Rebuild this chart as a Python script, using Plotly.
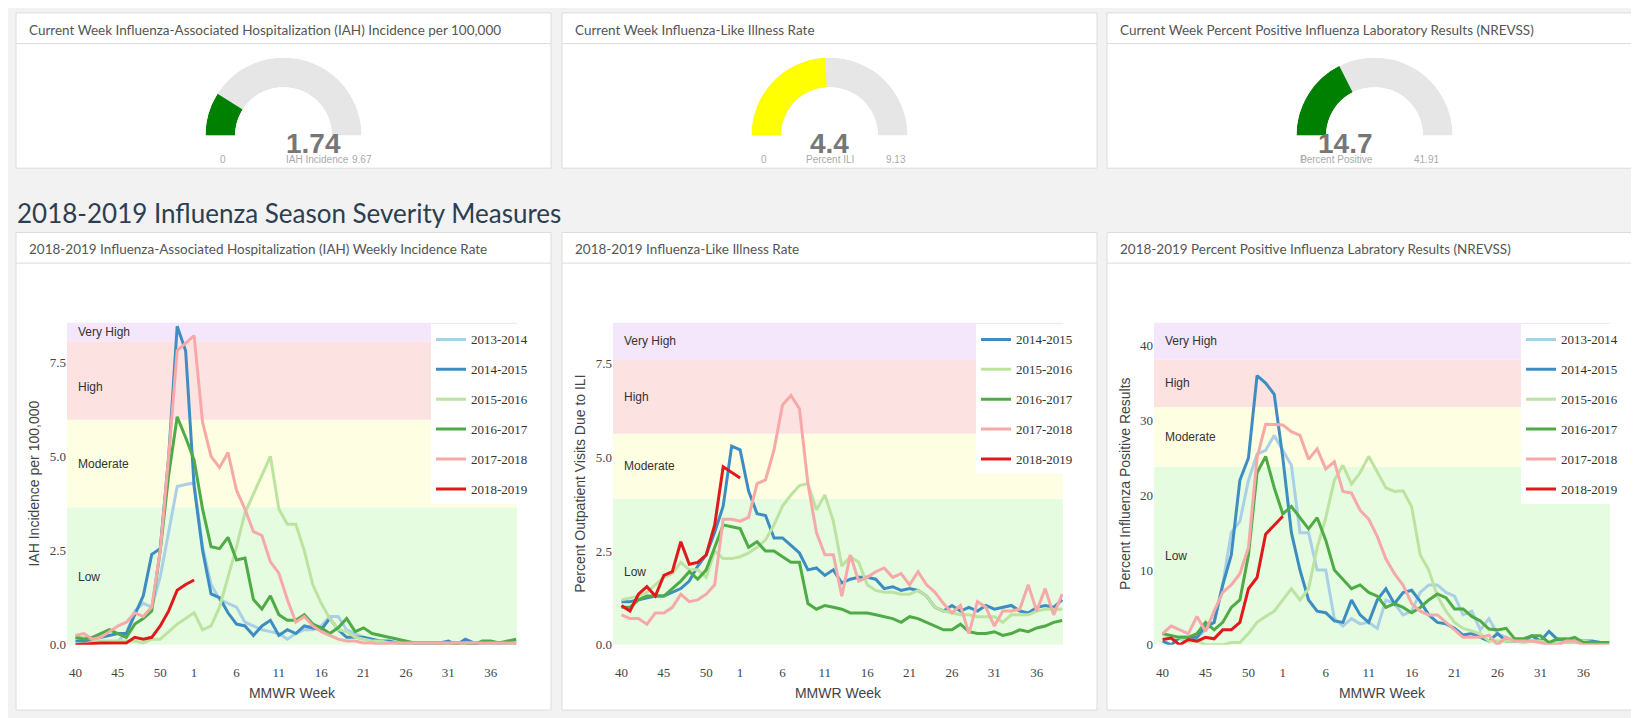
import plotly.graph_objects as go

W, H = 1639, 718
weeks = list(range(40, 54)) + list(range(1, 40))
tick_weeks = [40, 45, 50, 1, 6, 11, 16, 21, 26, 31, 36]

seasons = ["2013-2014", "2014-2015", "2015-2016", "2016-2017", "2017-2018", "2018-2019"]
colors = {"2013-2014": "#a9d0e6", "2014-2015": "#3d8dc2", "2015-2016": "#bde3a0",
          "2016-2017": "#4fab45", "2017-2018": "#f6a9a8", "2018-2019": "#e0191c"}

iah = {
 "2013-2014": [0.2,0.15,0.1,0.05,0.05,0.1,0.3,0.9,1.1,1.0,1.8,3.0,4.2,4.25,4.3,2.6,1.6,1.2,1.1,1.0,0.6,0.5,0.4,0.35,0.3,0.15,0.3,0.4,0.4,0.5,0.75,0.75,0.4,0.3,0.2,0.1,0.1,0.05,0.05,0.05,0.05,0.05,0.05,0.05,0.05,0.05,0.05,0.05,0.05,0.05,0.05,0.05,0.05],
 "2014-2015": [0.1,0.1,0.15,0.2,0.25,0.3,0.3,0.8,1.3,2.4,2.55,5.0,8.45,7.8,4.2,2.5,1.35,1.25,0.85,0.55,0.5,0.25,0.5,0.65,0.25,0.4,0.3,0.5,0.45,0.4,0.7,0.4,0.2,0.2,0.2,0.15,0.1,0.1,0.05,0.05,0.05,0.05,0.05,0.05,0.1,0.0,0.15,0.05,0.05,0.05,0.05,0.05,0.05],
 "2015-2016": [0.2,0.2,0.15,0.1,0.1,0.1,0.1,0.1,0.05,0.15,0.15,0.35,0.55,0.7,0.85,0.4,0.5,1.0,1.8,2.6,3.5,4.0,4.5,5.0,3.6,3.2,3.2,2.5,1.6,1.1,0.7,0.4,0.35,0.2,0.15,0.1,0.1,0.05,0.05,0.05,0.05,0.05,0.05,0.05,0.05,0.05,0.05,0.05,0.05,0.05,0.05,0.05,0.05],
 "2016-2017": [0.2,0.15,0.2,0.3,0.4,0.3,0.2,0.55,0.7,0.9,2.5,4.5,6.05,5.5,4.9,3.6,2.6,2.55,2.85,2.25,2.3,1.2,0.95,1.3,0.8,0.65,0.65,0.8,0.55,0.45,0.3,0.45,0.7,0.35,0.45,0.3,0.25,0.2,0.15,0.1,0.05,0.05,0.05,0.05,0.05,0.05,0.05,0.0,0.1,0.1,0.05,0.1,0.15],
 "2017-2018": [0.25,0.3,0.15,0.2,0.35,0.5,0.6,0.85,0.75,1.0,2.5,5.0,7.8,8.0,8.2,5.9,5.0,4.7,5.1,4.1,3.6,3.0,2.9,2.2,1.9,1.2,0.6,0.75,0.5,0.35,0.25,0.15,0.1,0.1,0.05,0.05,0.0,0.05,0.05,0.05,0.05,0.05,0.05,0.05,0.05,0.05,0.05,0.05,0.05,0.05,0.05,0.05,0.05],
 "2018-2019": [0.0,0.02,0.03,0.05,0.05,0.05,0.05,0.2,0.15,0.2,0.5,0.9,1.45,1.6,1.72],
}
ili = {
 "2014-2015": [1.15,1.15,1.2,1.25,1.3,1.3,1.4,1.5,1.7,2.1,2.4,3.0,3.7,5.3,5.2,4.1,3.5,3.45,2.85,2.85,2.65,2.45,2.0,2.05,1.85,2.0,1.65,1.75,1.8,1.8,1.75,1.5,1.55,1.45,1.5,1.45,1.3,1.0,0.9,1.05,0.9,1.0,0.9,1.05,0.95,1.0,1.05,0.9,0.85,1.0,1.05,1.0,1.2],
 "2015-2016": [1.2,1.25,1.3,1.4,1.6,1.8,1.9,2.2,2.0,2.0,1.8,2.5,2.3,2.3,2.35,2.45,2.6,2.8,3.2,3.7,4.0,4.25,4.3,3.6,4.0,3.3,2.1,2.35,2.2,1.6,1.45,1.4,1.4,1.35,1.35,1.45,1.3,1.0,0.9,0.85,0.8,0.8,0.75,0.75,0.75,0.6,0.8,0.8,0.8,0.9,0.95,0.95,0.95],
 "2016-2017": [1.0,1.0,1.2,1.3,1.3,1.3,1.5,1.7,1.95,1.75,2.0,2.6,3.2,3.15,3.1,2.6,2.75,2.5,2.5,2.35,2.2,2.2,1.1,0.95,1.05,1.0,0.95,0.85,0.85,0.85,0.8,0.75,0.7,0.6,0.75,0.7,0.6,0.5,0.4,0.4,0.55,0.35,0.3,0.3,0.35,0.25,0.3,0.4,0.35,0.45,0.5,0.6,0.65],
 "2017-2018": [0.8,0.7,0.7,0.55,0.85,0.85,1.0,1.35,1.15,1.2,1.35,1.6,3.35,3.35,3.3,3.4,4.3,4.4,5.2,6.4,6.65,6.3,4.3,3.0,2.4,2.4,1.3,2.4,1.7,1.8,1.95,2.05,1.8,1.9,1.6,1.95,1.6,1.4,1.1,0.85,1.05,0.3,1.15,1.0,0.5,0.9,0.9,0.95,1.6,0.9,1.5,0.8,1.35],
 "2018-2019": [1.05,0.9,1.35,1.55,1.3,1.85,1.95,2.75,2.15,2.2,2.4,3.2,4.75,4.6,4.45],
}
pos = {
 "2013-2014": [1.5,1.0,0.8,0.5,1.0,2.0,3.0,8,15,16.5,22,25.5,26,28,26,24,15,15,10,10,3.5,2.5,3.5,2.8,3.0,2.2,6,5.5,4,4.5,7,8,8,7,6.5,4,4.5,2,3.5,1.5,1,0.5,0.5,0.5,0.5,0.3,0.3,0.5,0.3,0.3,0.3,0.3,0.3],
 "2014-2015": [0.5,0,1,1,1,2.5,3,8,12,22,25,36,35,33.5,25,15,10,6,4.5,4.3,3.2,3,6,4,3,6,7.5,5.5,7,7.3,5.8,4,3,2.8,2.2,1.3,1.5,1,0.5,1.5,0.5,0.5,0.5,1.2,0.5,1.8,0.7,0.8,0.5,0.5,0.5,0.3,0.3],
 "2015-2016": [1.5,1,1,0.5,0.5,0,0,0,0.3,0.3,1.5,3,3.8,4.5,6,7.5,6,7.5,13,17,22,24,21.5,23,25.2,23,21,20.5,20.6,18.5,12,10,6.5,4.5,3,2.2,1.8,1.5,0.5,0.5,0.5,0.5,0.3,0.5,0.5,0.3,0.3,0.3,0.3,0.5,0.3,0.3,0.3],
 "2016-2017": [1.5,1.2,1,1,1.5,3,2,3,5,6,12,23,25.2,21,17.5,18.5,17,15.5,17,14,10,8.8,7.5,8,7,6.5,5,5.5,5,4.3,5,6,6.8,6.3,4.8,4.8,3.8,3.2,2.1,2,2.2,0.8,0.8,1.2,1.2,0.3,0.8,0.7,1,0.3,0.3,0.3,0.3],
 "2017-2018": [1.5,2.5,2,1.5,3.8,1.8,4.5,7,8,9.5,13,25,29.5,29.5,29.4,28.5,28,24.8,26.2,23.5,24.5,20.5,20.3,18,16.8,14.5,11.5,9.5,8,5.5,4.5,4,4,3,2,1,1,1,1.3,0,1,0.5,0.5,0.5,0.3,0,0,0.5,0.5,0,0,0,0],
 "2018-2019": [0.7,0.9,0,0.7,0.5,1,0.8,2,2,3,7.5,9,14.8,16,17.2],
}

band_names = ["Low", "Moderate", "High", "Very High"]
band_colors = ["#e5fce0", "#fefee2", "#fde2e2", "#f4e7fb"]
iah_bands = [3.65, 5.97, 8.05, 8.55]
ili_bands = [3.9, 5.63, 7.6, 8.6]
pos_bands = [23.8, 31.8, 38.1, 43.1]
iah_label_y = [1.8, 4.8, 6.85, 8.3]
ili_label_y = [1.95, 4.76, 6.6, 8.1]
pos_label_y = [11.9, 27.8, 35.0, 40.6]

gauge_titles = ["Current Week Influenza-Associated Hospitalization (IAH) Incidence per 100,000",
                "Current Week Influenza-Like Illness Rate",
                "Current Week Percent Positive Influenza Laboratory Results (NREVSS)"]
gauge_values = [1.74, 4.4, 14.7]
gauge_max = [9.67, 9.13, 41.91]
gauge_labels = ["IAH Incidence", "Percent ILI", "Percent Positive"]
gauge_colors = ["#008000", "#ffff00", "#008000"]

chart_titles = ["2018-2019 Influenza-Associated Hospitalization (IAH) Weekly Incidence Rate",
                "2018-2019 Influenza-Like Illness Rate",
                "2018-2019 Percent Positive Influenza Labratory Results (NREVSS)"]
y_titles = ["IAH Incidence per 100,000", "Percent Outpatient Visits Due to ILI",
            "Percent Influenza Positive Results"]

def px(x): return x / W
def py(y): return 1 - y / H

fig = go.Figure()
shapes, annotations = [], []
panels_x = [(8, 543), (554, 1089), (1099, 1634)]
centers = [(a + b) / 2 for a, b in panels_x]

for (a, b) in panels_x:
    for (t, bt, hl) in [(5, 162, 36), (227, 710, 258)]:
        shapes.append(dict(type="rect", xref="paper", yref="paper", x0=px(a), x1=px(b), y0=py(bt), y1=py(t),
                           fillcolor="white", line=dict(color="#dcdcdc", width=1), layer="below"))
        shapes.append(dict(type="line", xref="paper", yref="paper", x0=px(a), x1=px(b), y0=py(hl), y1=py(hl),
                           line=dict(color="#dcdcdc", width=1), layer="below"))

for i in range(3):
    a, b = panels_x[i]
    annotations.append(dict(xref="paper", yref="paper", x=px(a + 11), y=py(22), xanchor="left", yanchor="middle",
                            text=gauge_titles[i], showarrow=False, font=dict(family="Lato", size=13.5, color="#555")))
    annotations.append(dict(xref="paper", yref="paper", x=px(a + 11), y=py(244), xanchor="left", yanchor="middle",
                            text=chart_titles[i], showarrow=False, font=dict(family="Lato", size=13.5, color="#555")))

annotations.append(dict(xref="paper", yref="paper", x=px(7), y=py(207), xanchor="left", yanchor="middle",
                        text="2018-2019 Influenza Season Severity Measures", showarrow=False,
                        font=dict(family="Lato", size=26, color="#2c3e50")))

for i in range(3):
    c = centers[i]
    pid = "polar" if i == 0 else f"polar{i+1}"
    frac = gauge_values[i] / gauge_max[i]
    fig.add_trace(go.Barpolar(r=[1], theta=[90], width=[180], base=[0], marker=dict(color="#e6e6e6", line=dict(width=0)),
                              subplot=pid, showlegend=False, hoverinfo="skip"))
    fig.add_trace(go.Barpolar(r=[1], theta=[frac * 90], width=[frac * 180], base=[0],
                              marker=dict(color=gauge_colors[i], line=dict(width=0)), subplot=pid, showlegend=False))
    fig.update_layout(**{pid: dict(domain=dict(x=[px(c - 80), px(c + 80)], y=[py(129), py(50)]),
                                   sector=[0, 180], hole=0.62, bgcolor="rgba(0,0,0,0)",
                                   radialaxis=dict(range=[0, 1], visible=False),
                                   angularaxis=dict(visible=False, rotation=180, direction="clockwise"))})
    annotations.append(dict(xref="paper", yref="paper", x=px(c), y=py(119), text=f"<b>{gauge_values[i]}</b>",
                            showarrow=False, font=dict(family="Liberation Sans", size=28, color="#777")))
    for xx, t in [(c - 66, "0"), (c, gauge_labels[i]), (c + 66, str(gauge_max[i]))]:
        annotations.append(dict(xref="paper", yref="paper", x=px(xx), y=py(146), text=t, showarrow=False,
                                font=dict(family="Liberation Sans", size=10, color="#aaa")))

datasets = [iah, ili, pos]
bands = [iah_bands, ili_bands, pos_bands]
label_ys = [iah_label_y, ili_label_y, pos_label_y]
plot_x = [(59, 509), (605, 1055), (1146, 1602)]
legend_x = [423, 968, 1513]
yticks = [[0, 2.5, 5, 7.5], [0, 2.5, 5, 7.5], [0, 10, 20, 30, 40]]
tickfmt = [".1f", ".1f", "d"]
tickvals = [weeks.index(w) for w in tick_weeks]
for i in range(3):
    xa = "x" if i == 0 else f"x{i+1}"
    ya = "y" if i == 0 else f"y{i+1}"
    lg = "legend" if i == 0 else f"legend{i+1}"
    for s in seasons:
        if s in datasets[i]:
            v = datasets[i][s]
            fig.add_trace(go.Scatter(x=list(range(len(v))), y=v, mode="lines", name=s, xaxis=xa, yaxis=ya,
                                     legend=lg, legendgroup=f"{i}{s}",
                                     line=dict(color=colors[s], width=3)))
    lo = 0
    for k, hi in enumerate(bands[i]):
        shapes.append(dict(type="rect", xref=f"{xa} domain", yref=ya, x0=0, x1=1, y0=lo, y1=hi,
                           fillcolor=band_colors[k], line=dict(width=0), layer="below"))
        lo = hi
        annotations.append(dict(xref=f"{xa} domain", yref=ya, x=0.02, y=label_ys[i][k], xanchor="left",
                                text=band_names[k], showarrow=False, font=dict(family="Liberation Sans", size=12, color="#333")))
    a, b = plot_x[i]
    fig.update_layout(**{
        ("xaxis" if i == 0 else f"xaxis{i+1}"): dict(domain=[px(a), px(b)], anchor=ya, range=[-1, 52.1],
            tickvals=tickvals, ticktext=[str(w) for w in tick_weeks], showgrid=False, zeroline=False,
            ticks="outside", ticklen=16, tickcolor="rgba(0,0,0,0)",
            tickfont=dict(family="Liberation Serif", size=13, color="#444"),
            title=dict(text="MMWR Week", standoff=8, font=dict(family="Liberation Sans", size=14, color="#444"))),
        ("yaxis" if i == 0 else f"yaxis{i+1}"): dict(domain=[py(644), py(318)], anchor=xa,
            range=[0, bands[i][-1]], tickvals=yticks[i], tickformat=tickfmt[i], showgrid=False, zeroline=False,
            tickfont=dict(family="Liberation Serif", size=13, color="#444"),
            title=dict(text=y_titles[i], standoff=6, font=dict(family="Liberation Sans", size=14, color="#444"))),
        lg: dict(x=px(legend_x[i]), y=py(320), xanchor="left", yanchor="top", bgcolor="white",
                 traceorder="grouped", tracegroupgap=10, itemwidth=30,
                 font=dict(family="Liberation Serif", size=13, color="#333")),
    })

fig.update_layout(width=W, height=H, margin=dict(l=0, r=0, t=0, b=0), paper_bgcolor="#f2f2f2",
                  plot_bgcolor="rgba(0,0,0,0)", shapes=shapes, annotations=annotations, showlegend=True)
fig.write_html("out.html")
